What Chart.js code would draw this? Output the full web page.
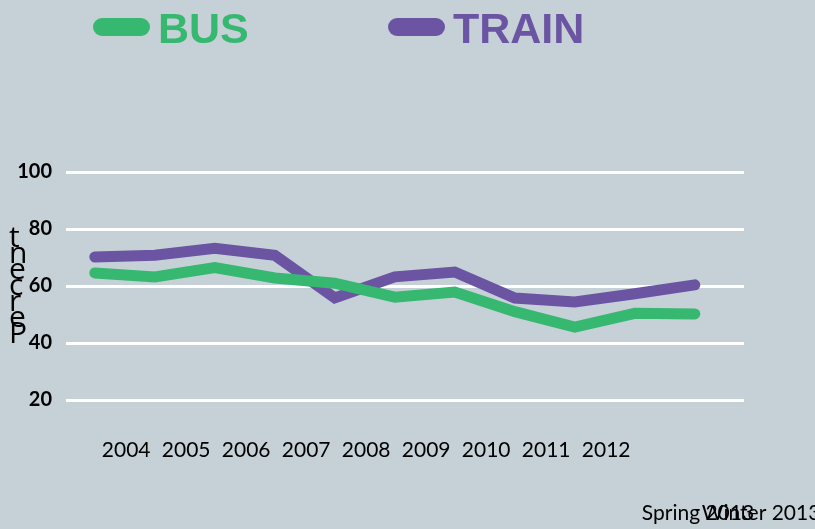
<!DOCTYPE html>
<html>
<head>
<meta charset="utf-8">
<script src="https://cdn.jsdelivr.net/npm/chart.js@4/dist/chart.umd.min.js"></script>
<style>
  html, body { margin: 0; padding: 0; background: #c6d1d7; }
  #wrap { width: 815px; height: 529px; }
</style>
</head>
<body>
<div id="wrap"><canvas id="lineChart"></canvas></div>
<script>
// data
const periods = ['2004', '2005', '2006', '2007', '2008', '2009', '2010', '2011', '2012', 'Spring 2013', 'Winter 2013'];
const busValues = [64.6, 63.2, 66.5, 62.8, 61.0, 56.1, 57.9, 51.0, 45.6, 50.4, 50.2];
const trainValues = [70.2, 70.8, 73.2, 70.8, 55.8, 63.2, 64.9, 55.8, 54.4, 57.3, 60.4];
const yTicks = [20, 40, 60, 80, 100];
const yTitle = 'Percent';

const green = '#36b870';
const purple = '#6b55a3';

// pill legend at the top
const pillLegend = {
    id: 'pillLegend',
    afterDraw(chart) {
        const c = chart.ctx;
        const starts = [93, 388];
        c.save();
        chart.data.datasets.forEach((ds, i) => {
            const x = starts[i];
            c.fillStyle = ds.borderColor;
            c.beginPath();
            c.roundRect(x, 18, 57, 18, 9);
            c.fill();
            c.font = 'bold 43px "Liberation Sans", Arial, sans-serif';
            c.textBaseline = 'alphabetic';
            c.textAlign = 'left';
            c.fillText(ds.label, x + 65, 43);
        });
        c.restore();
    }
};

// y title: upright letters stacked, read bottom to top
const stackedTitle = {
    id: 'stackedTitle',
    afterDraw(chart) {
        const c = chart.ctx;
        const chars = yTitle.split('').reverse();
        c.save();
        c.fillStyle = '#000';
        c.font = '30px "Open Sans", sans-serif';
        c.textAlign = 'left';
        c.textBaseline = 'alphabetic';
        chars.forEach((ch, i) => c.fillText(ch, 9, 247 + i * 16));
        c.restore();
    }
};

const ctx = document.getElementById('lineChart').getContext('2d');
const lineChart = new Chart(ctx, {
    type: 'line',
    data: {
        datasets: [{
            label: 'BUS',
            data: busValues.map((v, i) => ({ x: i, y: v })),
            borderColor: green,
            borderWidth: 11,
            borderCapStyle: 'round',
            borderJoinStyle: 'miter',
            pointRadius: 0,
            fill: false
        }, {
            label: 'TRAIN',
            data: trainValues.map((v, i) => ({ x: i, y: v })),
            borderColor: purple,
            borderWidth: 11,
            borderCapStyle: 'round',
            borderJoinStyle: 'miter',
            pointRadius: 0,
            fill: false
        }]
    },
    options: {
        responsive: true,
        maintainAspectRatio: false,
        animation: false,
        layout: { padding: { left: 0, right: 71, top: 172, bottom: 0 } },
        plugins: {
            legend: { display: false },
            tooltip: { enabled: false }
        },
        scales: {
            x: {
                type: 'linear',
                min: -0.48,
                max: 10.82,
                afterFit: s => {
                    s.height = 129;
                    s.paddingLeft = 0;
                    s.paddingRight = 0;
                },
                afterBuildTicks: s => {
                    s.ticks = periods.map((p, i) => ({ value: i }));
                },
                grid: { display: false, drawTicks: false },
                border: { display: false },
                ticks: {
                    autoSkip: false,
                    maxRotation: 0,
                    align: 'start',
                    labelOffset: 7,
                    padding: 34,
                    color: '#000',
                    font: { family: 'Lato, sans-serif', size: 21, lineHeight: 1.5 },
                    callback: v => {
                        const p = periods[v];
                        return p && p.indexOf(' ') > 0 ? ['', '', p] : p;
                    }
                }
            },
            y: {
                min: 20,
                max: 100,
                afterFit: s => { s.width = 66; },
                afterBuildTicks: s => {
                    s.ticks = yTicks.map(v => ({ value: v }));
                },
                grid: { color: '#ffffff', lineWidth: 3, drawTicks: false },
                border: { display: false },
                ticks: {
                    padding: 14,
                    color: '#000',
                    font: { family: 'Lato, sans-serif', size: 20, weight: 'bold' }
                }
            }
        }
    },
    plugins: [pillLegend, stackedTitle]
});
</script>
</body>
</html>
